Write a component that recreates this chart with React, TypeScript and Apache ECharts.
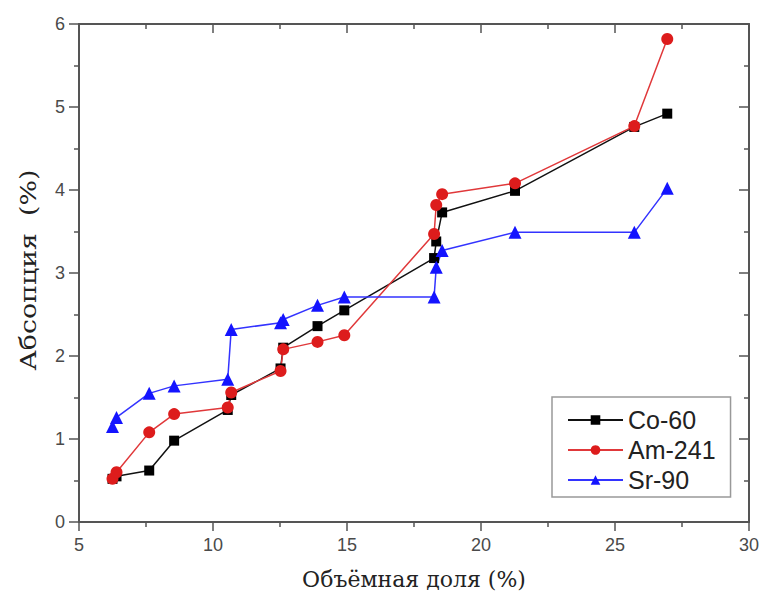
import React, { useEffect, useRef } from "react";
import * as echarts from "echarts";

const xValues = [6.25, 6.4, 7.62, 8.55, 10.55, 10.68, 12.52, 12.62, 13.9, 14.9, 18.25, 18.33, 18.55, 21.27, 25.72, 26.95];
const co60 = [0.52, 0.55, 0.62, 0.98, 1.35, 1.53, 1.85, 2.1, 2.36, 2.55, 3.18, 3.38, 3.73, 3.99, 4.76, 4.92];
const am241 = [0.52, 0.6, 1.08, 1.3, 1.38, 1.56, 1.82, 2.08, 2.17, 2.25, 3.47, 3.82, 3.95, 4.08, 4.77, 5.82];
const sr90 = [1.15, 1.26, 1.55, 1.64, 1.72, 2.32, 2.4, 2.44, 2.61, 2.71, 2.71, 3.07, 3.27, 3.49, 3.49, 4.02];

const seriesNames = ["Co-60", "Am-241", "Sr-90"];
const xTitle = "Объёмная доля (%)";
const yTitle = "Абсопция  (%)";

const xMin = 5;
const xMax = 30;
const xInterval = 5;
const yMin = 0;
const yMax = 6;
const yInterval = 1;

const axisColor = "#555";
const labelStyle = { color: "#4a4a4a", fontSize: 18, fontFamily: "Liberation Sans, Arial, sans-serif" };

export default function App() {
  const ref = useRef<HTMLDivElement>(null);
  useEffect(() => {
    document.body.style.margin = "0";
    if (!ref.current) return;
    const chart = echarts.init(ref.current, null, { renderer: "svg" });
    const pair = (ys: number[]) => xValues.map((x, i) => [x, ys[i]]);
    const mkX = (bottom: boolean) => ({
      type: "value",
      position: bottom ? "bottom" : "top",
      min: xMin,
      max: xMax,
      interval: xInterval,
      name: bottom ? xTitle : "",
      nameLocation: "middle",
      nameGap: 46,
      nameTextStyle: { color: "#222", fontSize: 22, fontFamily: "DejaVu Serif, serif" },
      axisLine: { show: true, onZero: false, lineStyle: { color: axisColor, width: 2 } },
      axisTick: { show: true, inside: !bottom, length: 9, lineStyle: { color: axisColor, width: 1.5 } },
      minorTick: { show: true, splitNumber: 2, length: 5, lineStyle: { color: axisColor, width: 1.5 } },
      axisLabel: bottom ? { ...labelStyle, margin: 14 } : { show: false },
      splitLine: { show: false },
    });
    const mkY = (left: boolean) => ({
      type: "value",
      position: left ? "left" : "right",
      min: yMin,
      max: yMax,
      interval: yInterval,
      axisLine: { show: true, onZero: false, lineStyle: { color: axisColor, width: 2 } },
      axisTick: { show: true, inside: !left, length: 10, lineStyle: { color: axisColor, width: 1.5 } },
      minorTick: { show: true, splitNumber: 2, length: 5, lineStyle: { color: axisColor, width: 1.5 } },
      axisLabel: left ? { ...labelStyle, margin: 14 } : { show: false },
      splitLine: { show: false },
    });
    chart.setOption({
      animation: false,
      backgroundColor: "#fff",
      grid: { left: 79, right: 11, top: 24, bottom: 78 },
      xAxis: [mkX(true), mkX(false)],
      yAxis: [mkY(true), mkY(false)],
      graphic: [
        {
          type: "text",
          x: 28,
          y: 270,
          rotation: Math.PI / 2,
          scaleX: 1.22,
          style: {
            text: yTitle,
            fill: "#222",
            font: "22px 'DejaVu Serif', serif",
            align: "center",
            verticalAlign: "middle",
          },
        },
      ],
      legend: {
        orient: "vertical",
        left: 552,
        top: 397,
        padding: [10, 15, 4, 15],
        borderColor: "#999",
        borderWidth: 1.5,
        backgroundColor: "#fff",
        itemWidth: 55,
        itemHeight: 12,
        itemGap: 4,
        textStyle: { color: "#222", fontSize: 25, lineHeight: 26, fontFamily: "Liberation Sans, Arial, sans-serif" },
        data: seriesNames,
      },
      series: [
        {
          name: seriesNames[0],
          type: "line",
          data: pair(co60),
          symbol: "rect",
          symbolSize: 10,
          itemStyle: { color: "#000" },
          lineStyle: { color: "#111", width: 1.5 },
        },
        {
          name: seriesNames[1],
          type: "line",
          data: pair(am241),
          symbol: "circle",
          symbolSize: 12,
          itemStyle: { color: "#dd1c1c" },
          lineStyle: { color: "#e0383a", width: 1.5 },
        },
        {
          name: seriesNames[2],
          type: "line",
          data: pair(sr90),
          symbol: "triangle",
          symbolSize: 13,
          itemStyle: { color: "#1414ff" },
          lineStyle: { color: "#3333ff", width: 1.5 },
        },
      ],
    });
    return () => chart.dispose();
  }, []);
  return <div ref={ref} style={{ width: 762, height: 600 }} />;
}
